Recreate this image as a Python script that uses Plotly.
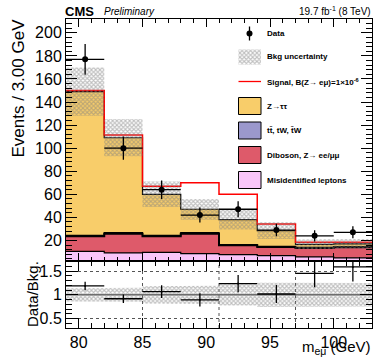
import numpy as np
import plotly.graph_objects as go

# ---------------- data ----------------
bin_edges = [79, 82, 85, 88, 91, 94, 97, 100, 103]
data_counts = [177, 100, 64, 42, 47, 29, 24, 27]
misid = [10.5, 9.1, 9.6, 8.5, 7.6, 6.8, 5.7, 4.8]
diboson = [13.0, 16.7, 13.9, 17.3, 8.1, 7.5, 7.7, 9.2]
ttbar = [0.8, 0.9, 0.8, 0.9, 0.6, 0.6, 0.5, 0.5]
ztautau = [124.7, 82.3, 35.7, 20.3, 21.7, 13.6, 2.6, 2.5]
signal = [1.0, 2.3, 7.0, 23.0, 22.0, 5.7, 2.0, 1.5]
bkg_unc = [21.0, 16.0, 11.0, 9.0, 8.5, 7.3, 4.2, 4.2]

x_ticks = [80, 85, 90, 95, 100]
y_ticks_top = [20, 40, 60, 80, 100, 120, 140, 160, 180, 200]
ratio_ticks = [0.5, 1, 1.5]
ratio_tick_labels = ["0.5", "1", "1.5"]
ratio_grid_x = [85, 91, 97]

legend_labels = [
    "Data",
    "Bkg uncertainty",
    "Signal, B(Z\u2192 e\u03bc)=1\u00d710<sup>-6</sup>",
    "Z\u2192\u03c4\u03c4",
    "tt\u0304, tW, t\u0304W",
    "Diboson, Z\u2192 ee/\u03bc\u03bc",
    "Misidentified leptons",
]

# ---------------- styles ----------------
FONT = "Liberation Sans, Arial, Helvetica, sans-serif"
C_ZTT = "#f8cd6a"
C_TT = "#9b98cc"
C_DIB = "#de5a6a"
C_MIS = "#f9c6f9"
C_SIG = "#ff0000"
HATCH = dict(shape="x", size=3, solidity=0.6, fgcolor="#7f7f7f", bgcolor="rgba(0,0,0,0)")

W, H = 375, 359
PL, PR, PT, PB = 66, 372, 19, 328          # plot area in pixels
PW, PH = PR - PL, PB - PT
ML, MR, MT, MB = PL, W - PR, PT, H - PB
split = (PB - 260.7) / PH


def px_x(p):
    return (p - PL) / PW


def px_y(p):
    return (PB - p) / PH


edges = np.array(bin_edges, float)
centers = 0.5 * (edges[:-1] + edges[1:])
widths = np.diff(edges)
data = np.array(data_counts, float)
comps = [np.array(misid), np.array(diboson), np.array(ttbar), np.array(ztautau)]
comp_colors = [C_MIS, C_DIB, C_TT, C_ZTT]
cum = np.cumsum(np.vstack(comps), axis=0)
total = cum[-1]
unc = np.array(bkg_unc)
sig_top = total + np.array(signal)


def step_xy(vals):
    return list(edges), list(vals) + [vals[-1]]


def band_xy(lo, hi):
    xs, ys = [], []
    for i in range(len(hi)):
        xs += [edges[i], edges[i + 1]]
        ys += [hi[i], hi[i]]
    for i in reversed(range(len(lo))):
        xs += [edges[i + 1], edges[i]]
        ys += [lo[i], lo[i]]
    xs.append(xs[0])
    ys.append(ys[0])
    return xs, ys


fig = go.Figure()

# stacked components (bars)
base = np.zeros_like(total)
for comp, col in zip(comps, comp_colors):
    fig.add_trace(go.Bar(x=centers, y=comp, base=base, width=widths,
                         marker=dict(color=col, line=dict(width=0)),
                         xaxis="x", yaxis="y", showlegend=False, hoverinfo="skip"))
    base = base + comp

# outlines of stack
for k, lw in zip(range(4), [1.2, 2.0, 1.2, 1.2]):
    sx, sy = step_xy(cum[k])
    fig.add_trace(go.Scatter(x=sx, y=sy, mode="lines", line=dict(color="black", width=lw, shape="hv"),
                             xaxis="x", yaxis="y", showlegend=False, hoverinfo="skip"))

# signal line
sx, sy = step_xy(sig_top)
fig.add_trace(go.Scatter(x=sx, y=sy, mode="lines", line=dict(color=C_SIG, width=1.5, shape="hv"),
                         xaxis="x", yaxis="y", showlegend=False, hoverinfo="skip"))

# uncertainty band
bx, by = band_xy(total - unc, total + unc)
fig.add_trace(go.Scatter(x=bx, y=by, mode="lines", fill="toself", line=dict(width=0),
                         fillcolor="rgba(0,0,0,0)", fillpattern=HATCH,
                         xaxis="x", yaxis="y", showlegend=False, hoverinfo="skip"))

# data
fig.add_trace(go.Scatter(x=centers, y=data, mode="markers",
                         marker=dict(color="black", size=6),
                         error_y=dict(type="data", array=np.sqrt(data), color="black", thickness=1.3, width=0),
                         error_x=dict(type="data", array=widths / 2, color="black", thickness=1.3, width=0),
                         xaxis="x", yaxis="y", showlegend=False, hoverinfo="skip"))

# ratio panel
rel = unc / total
rx, ry = band_xy(1 - rel, 1 + rel)
fig.add_trace(go.Scatter(x=rx, y=ry, mode="lines", fill="toself", line=dict(width=0),
                         fillcolor="rgba(0,0,0,0)", fillpattern=HATCH,
                         xaxis="x2", yaxis="y2", showlegend=False, hoverinfo="skip"))
fig.add_trace(go.Scatter(x=[edges[0], edges[-1]], y=[1, 1], mode="lines",
                         line=dict(color="#6e6e6e", width=1.6),
                         xaxis="x2", yaxis="y2", showlegend=False, hoverinfo="skip"))
ratio = data / total
ratio_err = np.sqrt(data) / total
fig.add_trace(go.Scatter(x=centers, y=ratio, mode="markers",
                         marker=dict(color="black", size=2),
                         error_y=dict(type="data", array=ratio_err, color="black", thickness=1.3, width=0),
                         error_x=dict(type="data", array=widths / 2, color="black", thickness=1.3, width=0),
                         xaxis="x2", yaxis="y2", showlegend=False, hoverinfo="skip"))

# ---------------- legend (custom) ----------------
leg_y = [33.5, 57, 81.5, 106, 130.5, 155, 180]
bx0, bx1 = px_x(238.5), px_x(261)
bxc = px_x(249.5)
txt_x = px_x(265)
half_h = 8.5 / PH

# data symbol
fig.add_trace(go.Scatter(x=[bxc], y=[px_y(leg_y[0])], mode="markers",
                         marker=dict(color="black", size=6),
                         error_y=dict(type="constant", value=7 / PH, color="black", thickness=1.3, width=0),
                         xaxis="x3", yaxis="y3", showlegend=False, hoverinfo="skip"))
# hatched box
yc = px_y(leg_y[1])
fig.add_trace(go.Scatter(x=[bx0, bx1, bx1, bx0, bx0],
                         y=[yc - 7.5 / PH, yc - 7.5 / PH, yc + 7.5 / PH, yc + 7.5 / PH, yc - 7.5 / PH],
                         mode="lines", fill="toself", line=dict(width=0),
                         fillcolor="rgba(0,0,0,0)", fillpattern=HATCH,
                         xaxis="x3", yaxis="y3", showlegend=False, hoverinfo="skip"))
# signal line
yc = px_y(leg_y[2])
fig.add_trace(go.Scatter(x=[bx0, bx1], y=[yc, yc], mode="lines", line=dict(color=C_SIG, width=1.3),
                         xaxis="x3", yaxis="y3", showlegend=False, hoverinfo="skip"))

shapes = []
for row, col in zip(leg_y[3:], [C_ZTT, C_TT, C_DIB, C_MIS]):
    yc = px_y(row)
    shapes.append(dict(type="rect", xref="paper", yref="paper", x0=bx0, x1=bx1,
                       y0=yc - half_h, y1=yc + half_h, fillcolor=col,
                       line=dict(color="black", width=1), layer="above"))

for gx in ratio_grid_x:
    shapes.append(dict(type="line", xref="x2", yref="y2 domain", x0=gx, x1=gx, y0=0, y1=1,
                       line=dict(color="#555555", width=1, dash="dot"), layer="below"))

annotations = []
for row, lab in zip(leg_y, legend_labels):
    annotations.append(dict(text="<b>%s</b>" % lab, x=txt_x, y=px_y(row), xref="paper", yref="paper",
                            xanchor="left", yanchor="middle", showarrow=False,
                            font=dict(family=FONT, size=8, color="black")))

annotations += [
    dict(text="<b>CMS</b>", x=px_x(63), y=px_y(11.5), xref="paper", yref="paper", xanchor="left",
         yanchor="middle", showarrow=False, font=dict(family=FONT, size=13, color="black")),
    dict(text="<i>Preliminary</i>", x=px_x(102), y=px_y(11.5), xref="paper", yref="paper", xanchor="left",
         yanchor="middle", showarrow=False, font=dict(family=FONT, size=10, color="black")),
    dict(text="19.7 fb<sup>-1</sup> (8 TeV)", x=px_x(373), y=px_y(11), xref="paper", yref="paper",
         xanchor="right", yanchor="middle", showarrow=False, font=dict(family=FONT, size=10, color="black")),
    dict(text="Events / 3.00 GeV", x=px_x(17.5), y=px_y(88), xref="paper", yref="paper", xanchor="center",
         yanchor="middle", textangle=-90, showarrow=False, font=dict(family=FONT, size=17, color="black")),
    dict(text="Data/Bkg.", x=px_x(32), y=px_y(294), xref="paper", yref="paper", xanchor="center",
         yanchor="middle", textangle=-90, showarrow=False, font=dict(family=FONT, size=15, color="black")),
    dict(text="m<sub>e\u03bc</sub> (GeV)", x=px_x(373), y=px_y(359), xref="paper", yref="paper",
         xanchor="right", yanchor="bottom", showarrow=False, font=dict(family=FONT, size=15, color="black")),
]

ax_common = dict(showline=True, linecolor="black", linewidth=1, mirror="allticks", ticks="inside",
                 tickcolor="black", zeroline=False, showgrid=False, automargin=False,
                 tickfont=dict(family=FONT, size=16, color="black"))

fig.update_layout(
    width=W, height=H,
    margin=dict(l=ML, r=MR, t=MT, b=MB, pad=0),
    paper_bgcolor="white", plot_bgcolor="rgba(0,0,0,0)",
    barmode="overlay", bargap=0,
    showlegend=False,
    xaxis=dict(domain=[0, 1], range=[edges[0], edges[-1]], anchor="y", tickvals=x_ticks,
               showticklabels=False, ticklen=8,
               minor=dict(tick0=edges[0], dtick=1, ticks="inside", ticklen=4, tickcolor="black"),
               **ax_common),
    yaxis=dict(domain=[split, 1], range=[2.4, 212], anchor="x", tickvals=y_ticks_top, ticklen=11,
               minor=dict(tick0=0, dtick=4, ticks="inside", ticklen=6, tickcolor="black"),
               **ax_common),
    xaxis2=dict(domain=[0, 1], range=[edges[0], edges[-1]], anchor="y2", tickvals=x_ticks, ticklen=10,
                minor=dict(tick0=edges[0], dtick=1, ticks="inside", ticklen=5, tickcolor="black"),
                **ax_common),
    yaxis2=dict(domain=[0, split], range=[0.3, 1.72], anchor="x2", tickvals=ratio_ticks,
                ticktext=ratio_tick_labels, ticklen=12,
                minor=dict(tick0=0, dtick=0.1, ticks="inside", ticklen=6, tickcolor="black"),
                **{k: v for k, v in ax_common.items() if k != "showgrid"},
                showgrid=True, gridcolor="#555555", griddash="dot", gridwidth=1),
    xaxis3=dict(domain=[0, 1], range=[0, 1], anchor="y3", visible=False, fixedrange=True, automargin=False),
    yaxis3=dict(domain=[0, 1], range=[0, 1], anchor="x3", visible=False, fixedrange=True, automargin=False),
    shapes=shapes,
    annotations=annotations,
)

fig.write_html("out.html", config={"displayModeBar": False},
               post_script="document.body.style.margin='0px';")
